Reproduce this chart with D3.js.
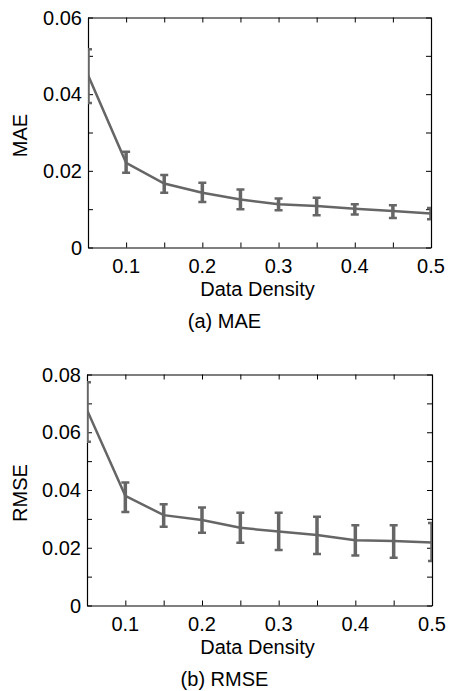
<!DOCTYPE html>
<html>
<head>
<meta charset="utf-8">
<script src="https://cdn.jsdelivr.net/npm/d3@7"></script>
<style>
  body { margin: 0; background: #fff; }
  text { font-family: "Liberation Sans", Arial, sans-serif; fill: #000; }
</style>
</head>
<body>
<script>
// data
const density = [0.05, 0.1, 0.15, 0.2, 0.25, 0.3, 0.35, 0.4, 0.45, 0.5]
const maeMean = [0.0450, 0.0221, 0.0167, 0.0143, 0.0125, 0.0113, 0.0108, 0.0101, 0.0095, 0.0089]
const maeLow  = [0.0377, 0.0195, 0.0143, 0.0119, 0.0100, 0.0097, 0.0084, 0.0086, 0.0077, 0.0074]
const maeHigh = [0.0517, 0.0250, 0.0189, 0.0169, 0.0151, 0.0128, 0.0130, 0.0113, 0.0110, 0.0103]
const rmseMean = [0.0677, 0.0380, 0.0313, 0.0296, 0.0269, 0.0256, 0.0244, 0.0226, 0.0223, 0.0218]
const rmseLow  = [0.0567, 0.0324, 0.0273, 0.0252, 0.0217, 0.0192, 0.0178, 0.0173, 0.0165, 0.0154]
const rmseHigh = [0.0773, 0.0426, 0.0351, 0.0339, 0.0321, 0.0321, 0.0307, 0.0278, 0.0278, 0.0286]
const xTicks = [0.05, 0.1, 0.15, 0.2, 0.25, 0.3, 0.35, 0.4, 0.45, 0.5]
const xLabels = [0.1, 0.2, 0.3, 0.4, 0.5]

const W = 449, H = 691
const svg = d3.select('body').append('svg')
    .attr('width', W)
    .attr('height', H)

const grey = '#666666'

function panel(opts) {
    const { top, bottom, left, right, yMax, yStep, yLabelStep, mean, low, high, yName, caption, id } = opts
    const x = d3.scaleLinear().domain([0.05, 0.5]).range([left, right])
    const y = d3.scaleLinear().domain([0, yMax]).range([bottom, top])
    const yTicks = d3.range(0, yMax + yStep / 2, yStep)
    const fmt = v => v === 0 ? '0' : d3.format('.2f')(v)
    const isLab = v => Math.abs(v / yLabelStep - Math.round(v / yLabelStep)) < 1e-6
    const g = svg.append('g')

    // inward ticks on all four sides
    const tickLen = 5
    g.append('g').attr('transform', `translate(0,${bottom})`)
        .call(d3.axisBottom(x).tickValues(xTicks).tickSizeInner(-tickLen).tickSizeOuter(0).tickFormat(''))
    g.append('g').attr('transform', `translate(0,${top})`)
        .call(d3.axisTop(x).tickValues(xTicks).tickSizeInner(-tickLen).tickSizeOuter(0).tickFormat(''))
    g.append('g').attr('transform', `translate(${left},0)`)
        .call(d3.axisLeft(y).tickValues(yTicks).tickSizeInner(-tickLen).tickSizeOuter(0).tickFormat(''))
    g.append('g').attr('transform', `translate(${right},0)`)
        .call(d3.axisRight(y).tickValues(yTicks).tickSizeInner(-tickLen).tickSizeOuter(0).tickFormat(''))
    g.selectAll('.domain').attr('stroke', '#000').attr('stroke-width', 1.2)
    g.selectAll('.tick line').attr('stroke', '#000').attr('stroke-width', 1)

    svg.append('clipPath').attr('id', id)
        .append('rect').attr('x', left).attr('y', top).attr('width', right - left).attr('height', bottom - top)
    const plot = g.append('g').attr('clip-path', `url(#${id})`)

    const pts = density.map((d, i) => ({ x: d, m: mean[i], lo: low[i], hi: high[i] }))
    plot.append('path').datum(pts)
        .attr('fill', 'none').attr('stroke', grey).attr('stroke-width', 2.5)
        .attr('d', d3.line().x(d => x(d.x)).y(d => y(d.m)))
    const cap = 4
    const eb = plot.selectAll('.eb').data(pts).enter().append('g')
    eb.append('line')
        .attr('x1', d => x(d.x)).attr('x2', d => x(d.x))
        .attr('y1', d => y(d.lo)).attr('y2', d => y(d.hi))
        .attr('stroke', grey).attr('stroke-width', 3.5)
    eb.append('line')
        .attr('x1', d => x(d.x) - cap).attr('x2', d => x(d.x) + cap)
        .attr('y1', d => y(d.hi)).attr('y2', d => y(d.hi))
        .attr('stroke', grey).attr('stroke-width', 2.5)
    eb.append('line')
        .attr('x1', d => x(d.x) - cap).attr('x2', d => x(d.x) + cap)
        .attr('y1', d => y(d.lo)).attr('y2', d => y(d.lo))
        .attr('stroke', grey).attr('stroke-width', 2.5)

    // tick labels
    g.selectAll('.xl').data(xLabels).enter().append('text')
        .attr('x', d => x(d)).attr('y', bottom + 25)
        .attr('text-anchor', 'middle').attr('font-size', 20)
        .text(d => d.toFixed(1))
    g.selectAll('.yl').data(yTicks.filter(isLab)).enter().append('text')
        .attr('x', left - 6).attr('y', d => y(d) + 7)
        .attr('text-anchor', 'end').attr('font-size', 20)
        .text(fmt)

    g.append('text').attr('x', (left + right) / 2 - 2).attr('y', bottom + 48)
        .attr('text-anchor', 'middle').attr('font-size', 20).text('Data Density')
    g.append('text')
        .attr('transform', `translate(27,${(top + bottom) / 2 + 3}) rotate(-90)`)
        .attr('text-anchor', 'middle').attr('font-size', 20).text(yName)
    g.append('text').attr('x', W / 2).attr('y', bottom + 80)
        .attr('text-anchor', 'middle').attr('font-size', 20).text(caption)
}

panel({ id: 'c1', top: 17.5, bottom: 247.5, left: 88, right: 431, yMax: 0.06, yStep: 0.01, yLabelStep: 0.02,
    mean: maeMean, low: maeLow, high: maeHigh, yName: 'MAE', caption: '(a) MAE' })
panel({ id: 'c2', top: 374.5, bottom: 605.5, left: 87, right: 432, yMax: 0.08, yStep: 0.01, yLabelStep: 0.02,
    mean: rmseMean, low: rmseLow, high: rmseHigh, yName: 'RMSE', caption: '(b) RMSE' })
</script>
</body>
</html>
